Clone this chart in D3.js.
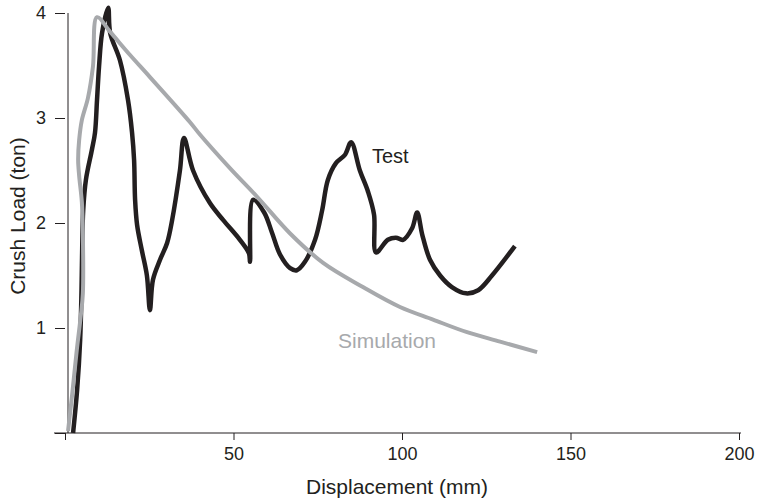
<!DOCTYPE html>
<html>
<head>
<meta charset="utf-8">
<script src="https://cdn.jsdelivr.net/npm/d3@7"></script>
<style>
  body { margin: 0; background: #fff; }
  svg { display: block; font-family: "Liberation Sans", Arial, sans-serif; }
</style>
</head>
<body>
<div id="chart"></div>
<script>
const WIDTH = 764;
const HEIGHT = 503;

// displacement (mm) / crush load (ton)
const testX = [2.4, 3.6, 4.5, 4.9, 5.1, 5.4, 6.2, 8.0, 8.9, 9.5, 10.1, 11.0, 12.8, 13.4, 16.3, 18.7, 19.9, 20.5, 20.8, 21.4, 22.8, 24.3, 25.2,
  26.1, 28.2, 30.3, 31.8, 34.1, 35.3, 38.0, 43.0, 46.9, 51.9, 54.6, 54.9, 55.8, 59.1, 61.4, 63.8, 66.8, 68.8,
  71.2, 74.2, 76.3, 78.0, 80.4, 83.1, 84.9, 87.5, 89.9, 91.7, 92.3, 95.8, 98.2, 100.3, 103.0, 104.5,
  106.0, 108.3, 111.3, 114.8, 119.0, 122.6, 126.7, 133.5];
const testY = [0, 0.41, 0.89, 1.36, 1.75, 2.12, 2.41, 2.70, 2.86, 3.17, 3.49, 3.81, 4.05, 3.81, 3.55, 3.17, 2.86, 2.6, 2.22, 1.98, 1.74, 1.50, 1.17,
  1.46, 1.65, 1.81, 2.03, 2.5, 2.81, 2.5, 2.19, 2.03, 1.84, 1.71, 1.63, 2.22, 2.1, 1.91, 1.70, 1.57, 1.55,
  1.63, 1.84, 2.12, 2.41, 2.57, 2.65, 2.77, 2.5, 2.30, 2.08, 1.72, 1.84, 1.86, 1.84, 1.95, 2.10,
  1.89, 1.65, 1.50, 1.39, 1.33, 1.36, 1.50, 1.78];

const simX = [0.9, 2.1, 3.5, 4.7, 5.3, 5.3, 5.0, 4.2, 3.9, 4.2, 5.0, 6.8, 8.3, 9.5,
  13.4, 19.3, 25.2, 37.1, 40.1, 49.0, 57.0, 66.8, 76.6, 88.4, 99.4, 109.2, 119.3, 129.1, 140.1];
const simY = [0.02, 0.36, 0.79, 1.12, 1.33, 1.90, 2.20, 2.45, 2.60, 2.79, 2.98, 3.19, 3.49, 3.96,
  3.82, 3.60, 3.39, 2.96, 2.84, 2.52, 2.25, 1.90, 1.62, 1.39, 1.20, 1.08, 0.96, 0.87, 0.77];

const xTicks = [0, 50, 100, 150, 200];
const yTicks = [0, 1, 2, 3, 4];

const INK = '#231f20';
const GREY = '#a7a9ac';

const svg = d3.select('#chart').append('svg')
  .attr('width', WIDTH)
  .attr('height', HEIGHT);

const x = d3.scaleLinear().domain([0, 200]).range([65, 739]);
const y = d3.scaleLinear().domain([0, 4]).range([433, 13]);

// x axis
const xAxis = svg.append('g')
  .attr('transform', `translate(0,${y(0)})`)
  .call(d3.axisBottom(x).tickValues(xTicks).tickSize(7).tickPadding(7).tickSizeOuter(0)
    .tickFormat(d => d === 0 ? '' : d));
xAxis.select('.domain').remove();
xAxis.append('line')
  .attr('x1', x(0) - 11).attr('x2', x(200) + 2)
  .attr('stroke', INK);

// y axis (ticks sit a little left of the spine)
const yAxis = svg.append('g')
  .attr('transform', `translate(${x(0)},0)`)
  .call(d3.axisLeft(y).tickValues(yTicks).tickSize(10).tickPadding(9).tickSizeOuter(0)
    .tickFormat(d => d === 0 ? '' : d));
yAxis.select('.domain').remove();
svg.append('line')
  .attr('x1', x(0) + 3).attr('x2', x(0) + 3)
  .attr('y1', y(4)).attr('y2', y(0))
  .attr('stroke', INK);

svg.selectAll('.tick line').attr('stroke', INK);
svg.selectAll('.tick text')
  .attr('fill', INK)
  .style('font-size', '18px')
  .style('font-family', '"Liberation Sans", Arial, sans-serif');

// titles
svg.append('text')
  .attr('x', 397).attr('y', 494)
  .attr('text-anchor', 'middle')
  .attr('fill', INK)
  .style('font-size', '21px')
  .text('Displacement (mm)');

svg.append('text')
  .attr('transform', 'translate(25,216) rotate(-90)')
  .attr('text-anchor', 'middle')
  .attr('fill', INK)
  .style('font-size', '21px')
  .text('Crush Load (ton)');

const line = d3.line()
  .x(d => x(d[0]))
  .y(d => y(d[1]))
  .curve(d3.curveCatmullRom.alpha(0.5));

svg.append('path')
  .datum(testX.map((v, i) => [v, testY[i]]))
  .attr('d', line)
  .attr('fill', 'none')
  .attr('stroke', INK)
  .attr('stroke-width', 4.5)
  .attr('stroke-linejoin', 'miter');

svg.append('path')
  .datum(simX.map((v, i) => [v, simY[i]]))
  .attr('d', line)
  .attr('fill', 'none')
  .attr('stroke', GREY)
  .attr('stroke-width', 4);

// series labels
svg.append('text')
  .attr('x', 372).attr('y', 163)
  .attr('fill', INK)
  .style('font-size', '20px')
  .text('Test');

svg.append('text')
  .attr('x', 338).attr('y', 348)
  .attr('fill', GREY)
  .style('font-size', '21px')
  .text('Simulation');
</script>
</body>
</html>
